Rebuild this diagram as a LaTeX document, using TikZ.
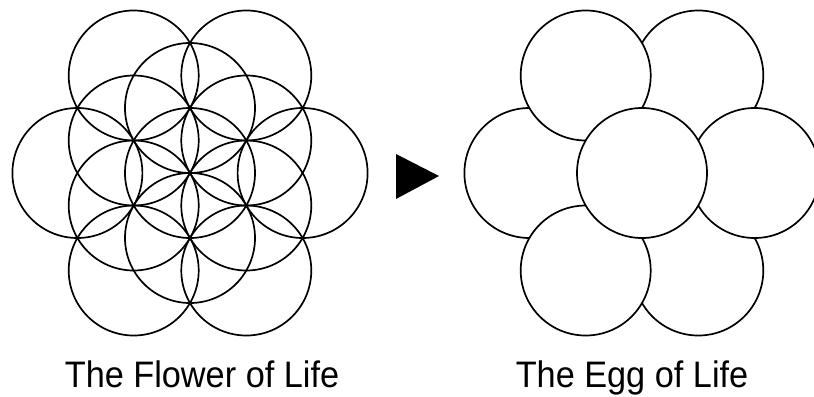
\documentclass[tikz,border=0pt]{standalone}
\usepackage{fontspec}
\setmainfont{Liberation Sans}
\usetikzlibrary{positioning}
\tikzset{
  petal/.style={draw,line width=1.7pt},
  eggcell/.style={draw,fill=white,line width=1.7pt},
  pointer/.style={fill=black},
  caption/.style={font=\fontsize{37}{40}\selectfont,anchor=base,xscale=0.93,inner sep=0pt}
}

\begin{document}
\begin{tikzpicture}[x=1bp,y=1bp]
  \useasboundingbox (0,0) rectangle (814,396);

  % flower of life
  \coordinate (fc) at (190,223);
  \draw[petal] (fc) circle[radius=65];
  \foreach \a in {30,90,...,330}
    \draw[petal] (fc) ++(\a:65) circle[radius=65];
  \foreach \a in {0,60,...,300}
    \draw[petal] (fc) ++(\a:112.6) circle[radius=65];

  % arrow
  \fill[pointer] (396,242) -- (439,220) -- (396,197) -- cycle;

  % egg of life (lower ones first)
  \coordinate (ec) at (642,223);
  \foreach \a in {60,180,300}
    \draw[eggcell] (ec) ++(\a:112.6) circle[radius=65];
  \foreach \a in {0,120,240}
    \draw[eggcell] (ec) ++(\a:112.6) circle[radius=65];
  \draw[eggcell] (ec) circle[radius=65];

  \node[caption] (flowerlbl) at (202,8.5) {The Flower of Life};
  \node[caption] (egglbl) at (632,8.5) {The Egg of Life};
\end{tikzpicture}
\end{document}
